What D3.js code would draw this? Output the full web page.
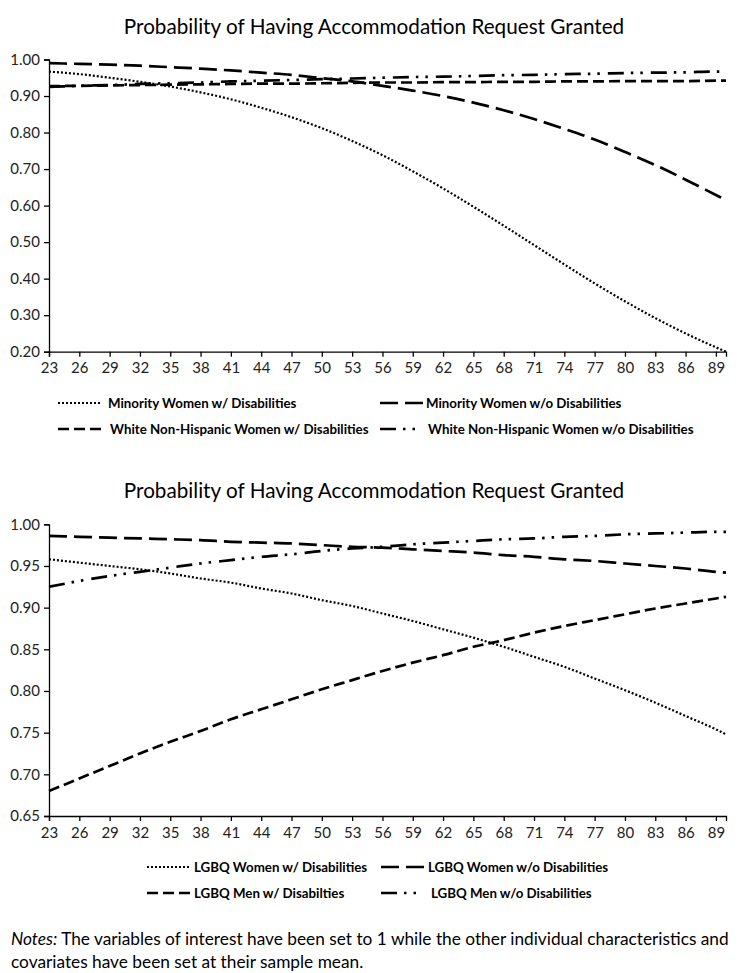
<!DOCTYPE html>
<html><head><meta charset="utf-8">
<script src="https://cdn.jsdelivr.net/npm/d3@7"></script>
<style>
body{margin:0;background:#fff}
svg{display:block}
text{font-family:Lato,"Open Sans",sans-serif}
</style>
</head><body>
<svg id="c" width="749" height="973"></svg>
<script>
// ---------- data ----------
const ages = [23,26,29,32,35,38,41,44,47,50,53,56,59,62,65,68,71,74,77,80,83,86,89,90];
const xTickLabels = [23,26,29,32,35,38,41,44,47,50,53,56,59,62,65,68,71,74,77,80,83,86,89];
const topYTicks = [0.20,0.30,0.40,0.50,0.60,0.70,0.80,0.90,1.00];
const bottomYTicks = [0.65,0.70,0.75,0.80,0.85,0.90,0.95,1.00];
const chartTitle = "Probability of Having Accommodation Request Granted";

// top chart series
const minorityWomenWithDis   = [0.967,0.960,0.950,0.939,0.926,0.910,0.891,0.868,0.842,0.812,0.777,0.738,0.694,0.647,0.597,0.545,0.492,0.439,0.387,0.338,0.292,0.250,0.212,0.200];
const minorityWomenWithoutDis= [0.990,0.988,0.986,0.983,0.979,0.975,0.970,0.964,0.958,0.949,0.940,0.928,0.915,0.900,0.882,0.861,0.837,0.810,0.781,0.747,0.711,0.671,0.629,0.615];
const whiteWomenWithDis      = [0.927,0.928,0.929,0.930,0.931,0.932,0.933,0.934,0.934,0.935,0.936,0.937,0.937,0.938,0.938,0.939,0.939,0.940,0.940,0.941,0.941,0.941,0.942,0.942];
const whiteWomenWithoutDis   = [0.925,0.928,0.930,0.933,0.935,0.937,0.940,0.942,0.944,0.946,0.948,0.950,0.952,0.953,0.955,0.957,0.958,0.960,0.961,0.963,0.964,0.965,0.967,0.967];
const topLabels = ["Minority Women w/ Disabilities","Minority Women w/o Disabilities","White Non-Hispanic Women w/ Disabilities","White Non-Hispanic Women w/o Disabilities"];

// bottom chart series
const lgbqWomenWithDis    = [0.958,0.954,0.950,0.946,0.941,0.935,0.930,0.923,0.917,0.909,0.902,0.893,0.884,0.874,0.864,0.853,0.841,0.829,0.815,0.801,0.786,0.770,0.754,0.748];
const lgbqWomenWithoutDis = [0.986,0.985,0.984,0.983,0.982,0.981,0.979,0.978,0.977,0.975,0.973,0.972,0.970,0.968,0.966,0.963,0.961,0.958,0.956,0.953,0.950,0.947,0.943,0.942];
const lgbqMenWithDis      = [0.680,0.695,0.710,0.725,0.739,0.752,0.766,0.778,0.790,0.802,0.813,0.824,0.834,0.843,0.853,0.861,0.870,0.878,0.885,0.892,0.899,0.905,0.911,0.913];
const lgbqMenWithoutDis   = [0.925,0.932,0.938,0.943,0.948,0.953,0.957,0.961,0.964,0.968,0.971,0.973,0.976,0.978,0.980,0.982,0.983,0.985,0.986,0.988,0.989,0.990,0.991,0.991];
const bottomLabels = ["LGBQ Women w/ Disabilities","LGBQ Women w/o Disabilities","LGBQ Men w/ Disabilties","LGBQ Men w/o Disabilities"];

const notesItalic = "Notes:";
const notesLine1 = " The variables of interest have been set to 1 while the other individual characteristics and";
const notesLine2 = "covariates have been set at their sample mean.";

// ---------- styles ----------
const styles = [
  {dash:"2,2", width:2.2},
  {dash:"18,7", width:2.7},
  {dash:"11,5", width:2.7},
  {dash:"16,7,2.5,7,2.5,8", width:2.7}
];

const svg = d3.select("#c");
const x = d3.scaleLinear().domain([23,90]).range([49,726]);

function drawChart(cfg){
  const y = d3.scaleLinear().domain(cfg.domain).range(cfg.yRange);
  const g = svg.append("g");
  g.append("text").attr("x",374).attr("y",cfg.titleY).attr("text-anchor","middle")
    .attr("font-size",20.7).attr("fill","#000").text(chartTitle);

  const yAxis = d3.axisLeft(y).tickValues(cfg.yTicks).tickFormat(d3.format(".2f")).tickSizeOuter(0).tickSize(5).tickPadding(4);
  const ya = g.append("g").attr("transform","translate(49,0)").call(yAxis);
  const xAxis = d3.axisBottom(x).tickValues(xTickLabels).tickFormat(d=>d).tickSizeOuter(0).tickSize(5).tickPadding(6);
  const xa = g.append("g").attr("transform",`translate(0,${cfg.yRange[0]})`).call(xAxis);
  [ya,xa].forEach(a=>{
    a.select(".domain").attr("stroke","#000").attr("stroke-width",1.3);
    a.selectAll(".tick line").attr("stroke","#000").attr("stroke-width",1.3);
    a.selectAll(".tick text").attr("font-size",15).attr("fill","#222").style("font-family","Lato");
  });

  const line = d3.line().x((d,i)=>x(ages[i])).y(d=>y(d)).curve(d3.curveMonotoneX);
  cfg.series.forEach((s,i)=>{
    g.append("path").attr("d",line(s)).attr("fill","none").attr("stroke","#000")
      .attr("stroke-width",styles[i].width).attr("stroke-dasharray",styles[i].dash);
  });

  cfg.labels.forEach((lab,i)=>{
    const col = i%2, row = Math.floor(i/2);
    const sx = cfg.legX[col], ly = cfg.legY[row];
    const len = [43,43,43,35][i];
    g.append("line").attr("x1",sx).attr("x2",sx+len).attr("y1",ly).attr("y2",ly)
      .attr("stroke","#000").attr("stroke-width",i===0?1.8:styles[i].width).attr("stroke-dasharray",styles[i].dash);
    g.append("text").attr("x",cfg.legTextX[col][row]).attr("y",ly).attr("dy","0.35em")
      .attr("font-size",13.3).attr("font-weight","bold").attr("fill","#000").text(lab);
  });
}

drawChart({
  domain:[0.2,1.0], yRange:[351.7,59.5], yTicks:topYTicks, titleY:34,
  series:[minorityWomenWithDis,minorityWomenWithoutDis,whiteWomenWithDis,whiteWomenWithoutDis],
  labels:topLabels, legX:[58,380], legY:[403,429], legTextX:[[108,110],[426,428]]
});
drawChart({
  domain:[0.65,1.0], yRange:[816,524.3], yTicks:bottomYTicks, titleY:498,
  series:[lgbqWomenWithDis,lgbqWomenWithoutDis,lgbqMenWithDis,lgbqMenWithoutDis],
  labels:bottomLabels, legX:[147,381], legY:[867,893], legTextX:[[194,194],[428,431]]
});

const nt = svg.append("text").attr("x",11).attr("y",945).attr("font-size",17.3).attr("fill","#000");
nt.append("tspan").attr("font-style","italic").text(notesItalic);
nt.append("tspan").text(notesLine1);
svg.append("text").attr("x",11).attr("y",968).attr("font-size",17.3).attr("fill","#000").text(notesLine2);
</script>
</body></html>
